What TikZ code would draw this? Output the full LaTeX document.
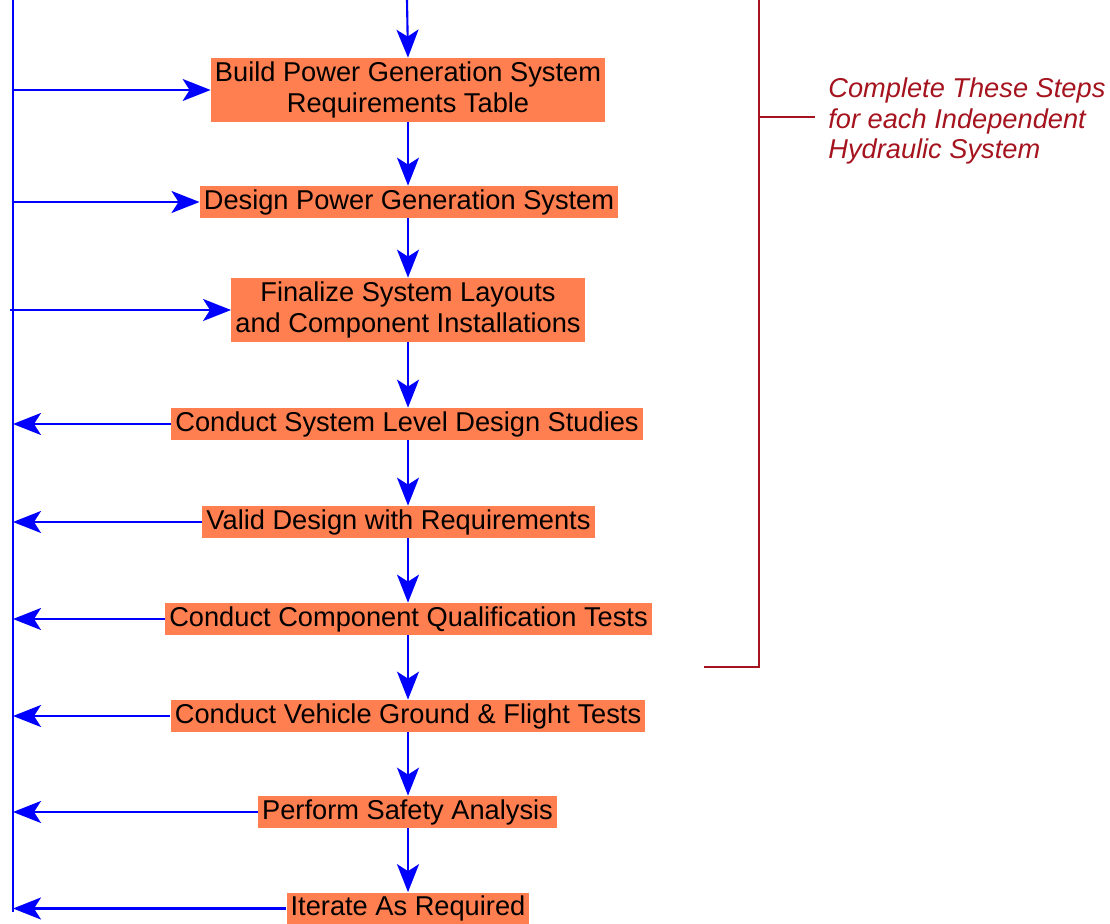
\documentclass[tikz,border=0pt]{standalone}
\usepackage{fontspec}
\setmainfont{Liberation Sans}
\usetikzlibrary{arrows.meta}
\definecolor{stepfill}{RGB}{255,127,80}
\definecolor{bracketred}{RGB}{165,20,30}

\begin{document}
\begin{tikzpicture}[
    stepbox/.style={fill=stepfill, align=center, inner xsep=0.08cm, inner ysep=0pt,
        minimum height=0.64cm, font=\fontsize{15.5}{17.5}\selectfont},
    flow/.style={blue, line width=1.2pt, -{Stealth[length=0.56cm, width=0.44cm, inset=0.14cm]}}
]
    \useasboundingbox (0,0) rectangle (22.2,-18.48);

    \coordinate (ltop) at (0.26,0);
    \coordinate (lbot) at (0.26,-18.24);
    \coordinate (in) at (8.14,0);

    \node[stepbox, minimum height=1.28cm] (build) at (8.16,-1.8) {Build Power Generation System\\Requirements Table};
    \node[stepbox] (design) at (8.18,-4.04) {Design Power Generation System};
    \node[stepbox, minimum height=1.28cm] (finalize) at (8.16,-6.2) {Finalize System Layouts\\and Component Installations};
    \node[stepbox] (studies) at (8.14,-8.48) {Conduct System Level Design Studies};
    \node[stepbox] (valid) at (7.97,-10.44) {Valid Design with Requirements};
    \node[stepbox] (qualtests) at (8.17,-12.38) {Conduct Component Qualification Tests};
    \node[stepbox] (flighttests) at (8.16,-14.32) {Conduct Vehicle Ground \& Flight Tests};
    \node[stepbox] (safety) at (8.15,-16.24) {Perform Safety Analysis};
    \node[stepbox] (iterate) at (8.16,-18.17) {Iterate As Required};

    \draw[blue, line width=1.2pt] (ltop) -- (lbot);

    \draw[flow] (in) -- (build.north);
    \draw[flow] (build.south) -- (design.north -| build.south);
    \draw[flow] (design.south -| build.south) -- (finalize.north -| build.south);
    \draw[flow] (finalize.south -| build.south) -- (studies.north -| build.south);
    \draw[flow] (studies.south -| build.south) -- (valid.north -| build.south);
    \draw[flow] (valid.south -| build.south) -- (qualtests.north -| build.south);
    \draw[flow] (qualtests.south -| build.south) -- (flighttests.north -| build.south);
    \draw[flow] (flighttests.south -| build.south) -- (safety.north -| build.south);
    \draw[flow] (safety.south -| build.south) -- (iterate.north -| build.south);

    \foreach \n in {build,design}
        \draw[flow] (\n.west -| ltop) -- (\n.west);
    \draw[flow] ([xshift=-0.06cm]finalize.west -| ltop) -- (finalize.west);
    \foreach \n in {studies,valid,qualtests,flighttests,safety,iterate}
        \draw[flow] (\n.west) -- (\n.west -| ltop);

    % bracket
    \coordinate (btop) at (15.18,0);
    \coordinate (bbot) at (15.18,-13.34);
    \coordinate (bend) at (14.08,-13.34);
    \coordinate (bmid) at (15.18,-2.34);
    \node[bracketred, anchor=west, align=left, inner sep=0pt,
        font=\fontsize{15.5}{17.6}\selectfont\itshape] (note) at (16.56,-2.42)
        {Complete These Steps\\for each Independent\\Hydraulic System};
    \draw[bracketred, line width=1.1pt] (bend) -- (bbot) -- (btop);
    \draw[bracketred, line width=1.1pt, shorten >=0.26cm] (bmid) -- (bmid -| note.west);

\end{tikzpicture}
\end{document}
